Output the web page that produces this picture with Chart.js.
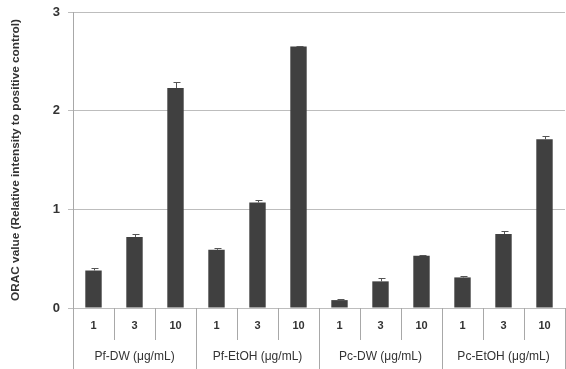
<!DOCTYPE html>
<html>
<head>
<meta charset="utf-8">
<script src="https://cdn.jsdelivr.net/npm/chart.js@4.4.1/dist/chart.umd.min.js"></script>
<style>
  html, body { margin: 0; padding: 0; background: #fff; }
  #wrap { width: 566px; height: 369px; }
</style>
</head>
<body>
<div id="wrap"><canvas id="orac"></canvas></div>
<script>
// concentrations inside each group, and the groups themselves
var doses = ["1", "3", "10"];
var groups = ["Pf-DW (\u03bcg/mL)", "Pf-EtOH (\u03bcg/mL)", "Pc-DW (\u03bcg/mL)", "Pc-EtOH (\u03bcg/mL)"];

// ORAC values (relative to positive control)
var pfDW    = [0.38, 0.72, 2.23];
var pfEtOH  = [0.59, 1.07, 2.65];
var pcDW    = [0.08, 0.27, 0.53];
var pcEtOH  = [0.31, 0.75, 1.71];

// upper error bars
var pfDWErr   = [0.03, 0.03, 0.06];
var pfEtOHErr = [0.015, 0.02, 0.01];
var pcDWErr   = [0.01, 0.035, 0.012];
var pcEtOHErr = [0.015, 0.03, 0.03];

var yTicks = [0, 1, 2, 3];

var labels = [];
groups.forEach(function() { doses.forEach(function(d) { labels.push(d); }); });
var values = pfDW.concat(pfEtOH, pcDW, pcEtOH);
var errors = pfDWErr.concat(pfEtOHErr, pcDWErr, pcEtOHErr);

// separators of the category table under the plot
var tablePlugin = {
  id: 'table',
  afterDraw: function(chart) {
    var ctx = chart.ctx, x = chart.scales.x, area = chart.chartArea;
    var n = labels.length;
    ctx.save();
    ctx.strokeStyle = '#a8a8a8';
    ctx.lineWidth = 1;
    for (var i = 0; i <= n; i++) {
      var px;
      if (i === 0) px = area.left;
      else if (i === n) px = area.right;
      else px = (x.getPixelForValue(i - 1) + x.getPixelForValue(i)) / 2;
      px = Math.round(px) + 0.5;
      var bottom = (i % doses.length === 0) ? chart.height : area.bottom + 32;
      ctx.beginPath();
      ctx.moveTo(px, area.bottom);
      ctx.lineTo(px, bottom);
      ctx.stroke();
    }
    ctx.restore();
  }
};

// error bars on top of each bar
var errorPlugin = {
  id: 'errors',
  afterDatasetsDraw: function(chart) {
    var ctx = chart.ctx, y = chart.scales.y;
    var meta = chart.getDatasetMeta(0);
    ctx.save();
    ctx.strokeStyle = '#555';
    ctx.lineWidth = 1;
    meta.data.forEach(function(bar, i) {
      var top = Math.round(y.getPixelForValue(values[i] + errors[i])) + 0.5;
      var cx = Math.round(bar.x) + 0.5;
      ctx.beginPath();
      ctx.moveTo(cx, bar.y);
      ctx.lineTo(cx, top);
      ctx.moveTo(cx - 3, top);
      ctx.lineTo(cx + 4, top);
      ctx.stroke();
    });
    ctx.restore();
  }
};

new Chart(document.getElementById('orac'), {
  type: 'bar',
  data: {
    labels: labels,
    datasets: [{
      data: values,
      backgroundColor: '#404040',
      borderWidth: 0,
      categoryPercentage: 1,
      barPercentage: 0.4
    }]
  },
  options: {
    responsive: true,
    maintainAspectRatio: false,
    animation: false,
    layout: { padding: { top: 0, right: 1, bottom: 0, left: 0 } },
    plugins: {
      legend: { display: false },
      tooltip: { enabled: false }
    },
    scales: {
      x: {
        grid: { display: false, drawTicks: false },
        border: { display: false },
        afterFit: function(scale) { scale.height = 30; },
        ticks: {
          color: '#333',
          padding: 11,
          font: { family: 'Liberation Sans', size: 11, weight: 'bold' }
        }
      },
      x2: {
        type: 'category',
        labels: groups,
        position: 'bottom',
        grid: { display: false, drawTicks: false },
        border: { display: false },
        afterFit: function(scale) { scale.height = 31; },
        ticks: {
          color: '#333',
          padding: 11,
          font: { family: 'Liberation Sans', size: 12 }
        }
      },
      y: {
        min: 0,
        max: 3,
        afterBuildTicks: function(scale) {
          scale.ticks = yTicks.map(function(v) { return { value: v }; });
        },
        afterFit: function(scale) {
          scale.width = 73;
          scale.paddingTop = 12;
        },
        grid: { color: '#bdbdbd', tickLength: 5 },
        border: { display: true, color: '#a8a8a8' },
        ticks: {
          color: '#333',
          padding: 8,
          font: { family: 'Liberation Sans', size: 13, weight: 'bold' }
        },
        title: {
          display: true,
          text: 'ORAC value (Relative intensity to positive control)',
          color: '#333',
          padding: { top: 9, bottom: 0 },
          font: { family: 'Liberation Sans', size: 11.8, weight: 'bold' }
        }
      }
    }
  },
  plugins: [tablePlugin, errorPlugin]
});
</script>
</body>
</html>
